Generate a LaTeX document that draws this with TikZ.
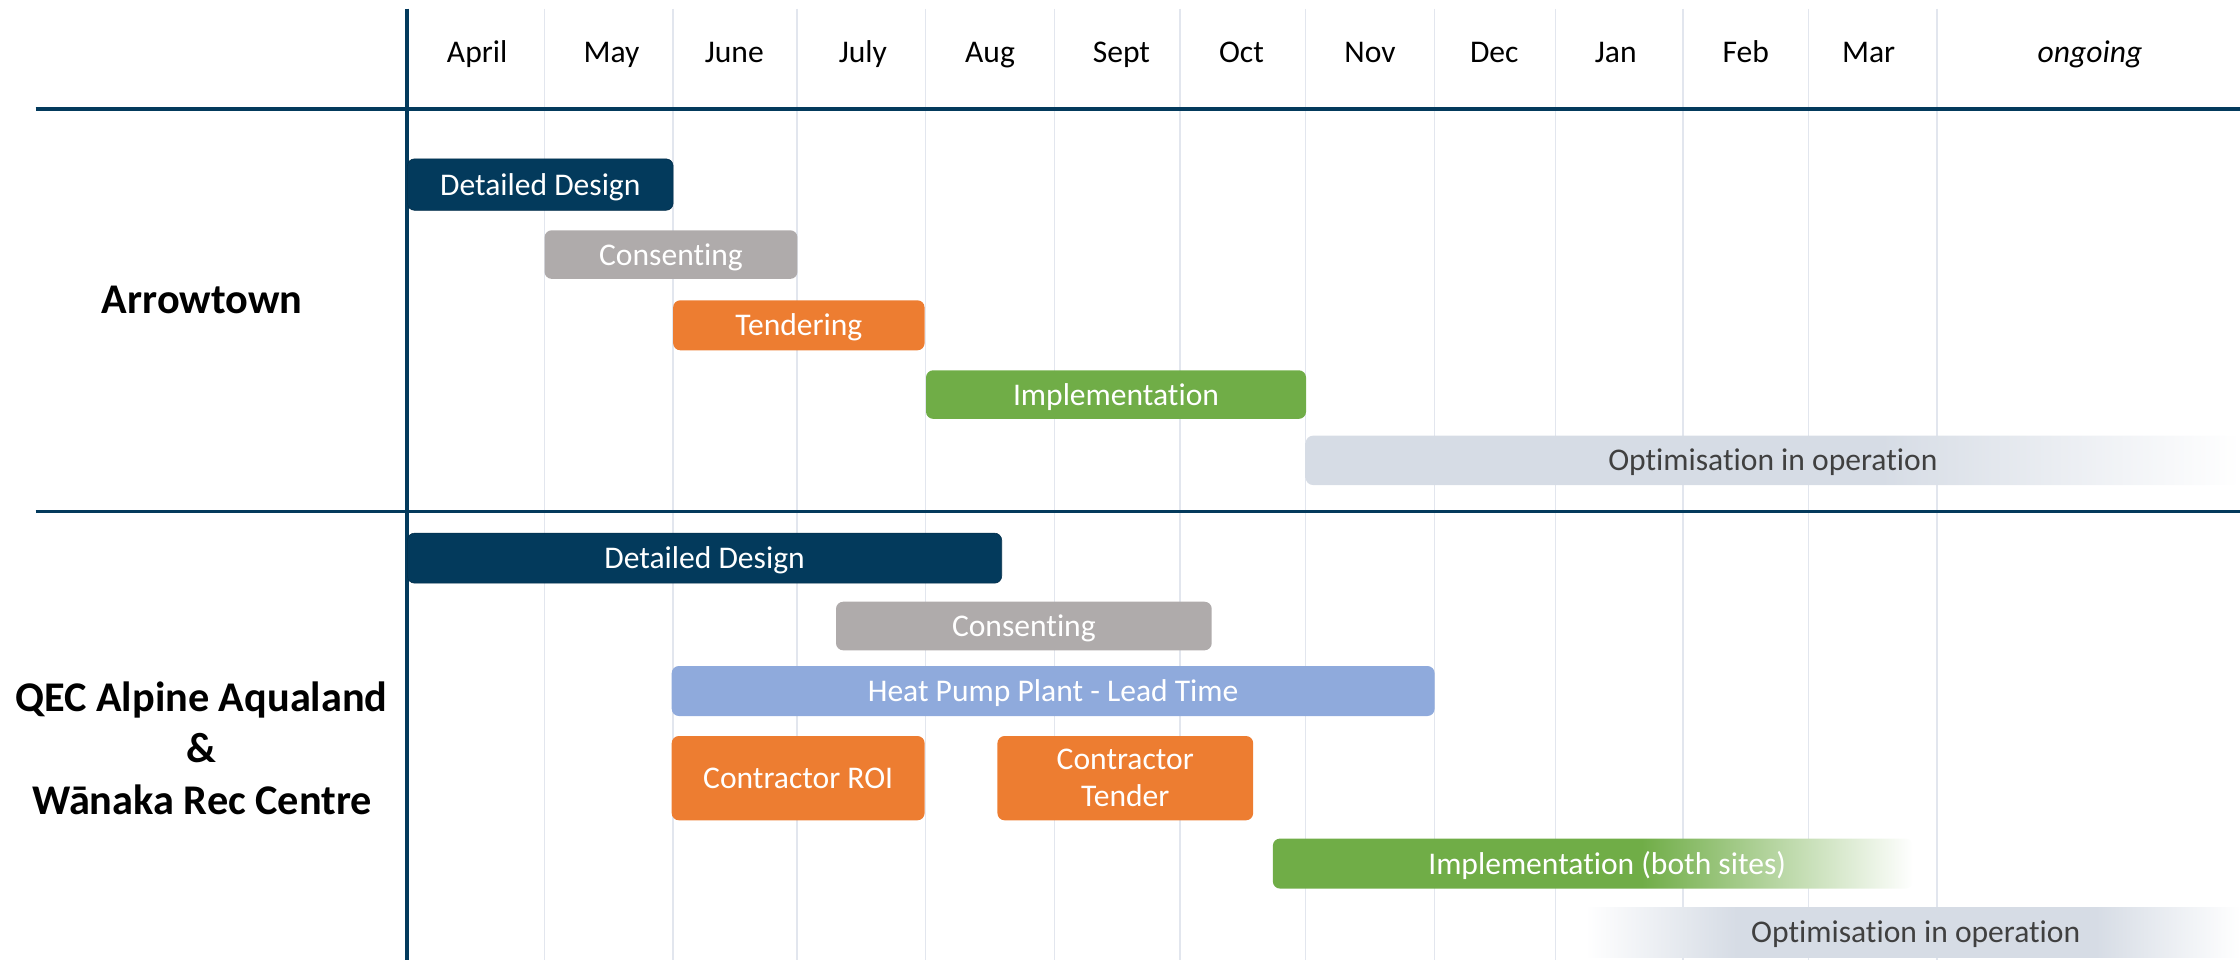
\documentclass[tikz,border=0pt]{standalone}
\usepackage{fontspec}
\setmainfont{Carlito}[Ligatures={NoCommon}]
\definecolor{navy}{HTML}{033A5C}
\definecolor{consgray}{HTML}{AFABAB}
\definecolor{orng}{HTML}{ED7D31}
\definecolor{grn}{HTML}{70AD47}
\definecolor{hpblue}{HTML}{8FAADC}
\definecolor{optc}{HTML}{D6DCE5}
\definecolor{gridc}{HTML}{E2E6EE}
\definecolor{opttext}{HTML}{404040}
\newcommand\barfont{\fontsize{22.1}{26}\selectfont}
\newcommand\sitefont{\fontsize{29.6}{36}\selectfont\bfseries}
\pgfdeclarehorizontalshading{optfadeA}{100bp}{color(0bp)=(optc); color(55.8bp)=(optc); color(75bp)=(white); color(100bp)=(white)}
\pgfdeclarehorizontalshading{grnfade}{100bp}{color(0bp)=(grn); color(53.8bp)=(grn); color(75bp)=(white); color(100bp)=(white)}
\pgfdeclarehorizontalshading{optfadeB}{100bp}{color(0bp)=(white); color(25bp)=(white); color(36.5bp)=(optc); color(64bp)=(optc); color(75bp)=(white); color(100bp)=(white)}
\tikzset{
  gridline/.style={draw=gridc, line width=1pt},
  bar/.style={rounded corners=5pt, inner sep=0pt, text=white, font=\barfont, align=center},
  lbl/.style={text height=14.6pt, text depth=0pt},
  month/.style={font=\barfont, text height=14.6pt, text depth=0pt, inner sep=0pt},
  site/.style={font=\sitefont, inner sep=0pt, anchor=base},
  opttxt/.style={font=\barfont, text=opttext, text height=14.6pt, text depth=0pt, inner sep=0pt},
}
\begin{document}
\begin{tikzpicture}[x=1pt, y=-1pt]
\useasboundingbox (0,0) rectangle (1568,672);
% grid lines
\foreach \gx in {381,471,558,648,738,826,914,1004,1089,1178,1266,1356}
  \draw[gridline] (\gx,6) -- (\gx,672);
% month labels
\node[month] (mApr) at (334,36.5) {April};
\node[month] (mMay) at (428,36.5) {May};
\node[month] (mJun) at (514,36.5) {June};
\node[month] (mJul) at (604,36.5) {July};
\node[month] (mAug) at (693,36.5) {Aug};
\node[month] (mSep) at (785,36.5) {Sept};
\node[month] (mOct) at (869,36.5) {Oct};
\node[month] (mNov) at (959,36.5) {Nov};
\node[month] (mDec) at (1046,36.5) {Dec};
\node[month] (mJan) at (1131,36.5) {Jan};
\node[month] (mFeb) at (1222,36.5) {Feb};
\node[month] (mMar) at (1308,36.5) {Mar};
\node[month] (mOng) at (1463,36.5) {\itshape ongoing};
% frame lines
\coordinate (hl) at (25,76);
\coordinate (hr) at (1568,76);
\coordinate (ml) at (25,358);
\coordinate (mr) at (1568,358);
\coordinate (vt) at (285,6);
\coordinate (vb) at (285,672);
\draw[navy, line width=2.8pt] (hl) -- (hr);
\draw[navy, line width=1.6pt] (ml) -- (mr);
\draw[navy, line width=3pt] (vt) -- (vb);
% site labels
\node[site] (arrow) at (141.5,219.5) {Arrowtown};
\node[site] (qec1) at (141,498) {QEC Alpine Aqualand};
\node[site] (qec2) at (141,534) {\&};
\node[site] (qec3) at (141.5,570) {Wānaka Rec Centre};
% Arrowtown bars
\node[bar, lbl, fill=navy, draw=navy!80!black, minimum width=186pt, minimum height=36pt, anchor=north west] (a1) at (285,111) {Detailed Design};
\node[bar, lbl, fill=consgray, minimum width=177pt, minimum height=34pt, anchor=north west] (a2) at (381,161) {Consenting};
\node[bar, lbl, fill=orng, minimum width=176pt, minimum height=35pt, anchor=north west] (a3) at (471,210) {Tendering};
\node[bar, lbl, fill=grn, minimum width=266pt, minimum height=34pt, anchor=north west] (a4) at (648,259) {Implementation};
\shade[shading=optfadeA, rounded corners=5pt] (914,305) rectangle (1568,339.5);
\node[opttxt] (a5) at (1241,322.3) {Optimisation in operation};
% QEC bars
\node[bar, lbl, fill=navy, draw=navy!80!black, minimum width=416pt, minimum height=35pt, anchor=north west] (q1) at (285,373) {Detailed Design};
\node[bar, lbl, fill=consgray, minimum width=263pt, minimum height=34pt, anchor=north west] (q2) at (585,421) {Consenting};
\node[bar, lbl, fill=hpblue, minimum width=534pt, minimum height=35pt, anchor=north west] (q3) at (470,466) {Heat Pump Plant - Lead Time};
\node[bar, fill=orng, minimum width=177pt, minimum height=59pt, anchor=north west] (q4) at (470,515) {Contractor ROI};
\node[bar, fill=orng, minimum width=179pt, minimum height=59pt, anchor=north west] (q5) at (698,515) {Contractor\\Tender};
\shade[shading=grnfade, rounded corners=5pt] (891,587) rectangle (1339,622);
\node[font=\barfont, text=white, text height=14.6pt, text depth=0pt, inner sep=0pt] (q6) at (1125,604.5) {Implementation (both sites)};
\shade[shading=optfadeB] (1110,635) rectangle (1568,670);
\node[opttxt] (q7) at (1341,652.5) {Optimisation in operation};
\end{tikzpicture}
\end{document}
